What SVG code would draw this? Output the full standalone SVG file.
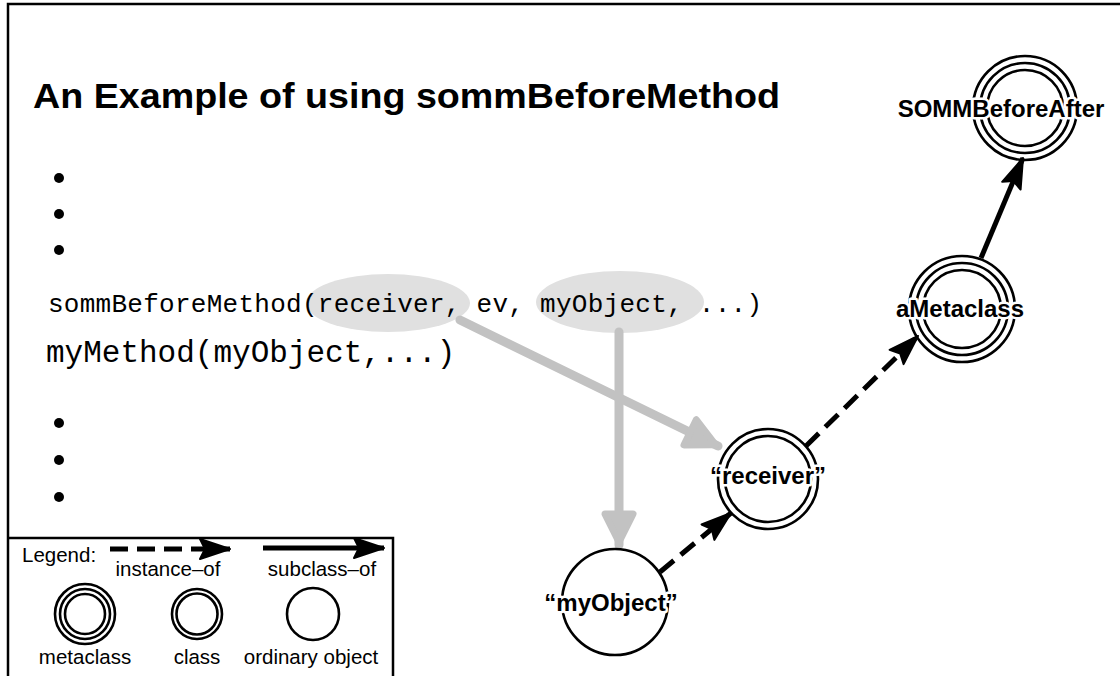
<svg xmlns="http://www.w3.org/2000/svg" width="1120" height="676" viewBox="0 0 1120 676">
  <style>
    .ring { fill: none; stroke: #000; stroke-width: 2.6; }
    .lbl { font-family: "Liberation Sans", Arial, sans-serif; font-weight: bold; font-size: 24px; text-anchor: middle; fill: #000; stroke: #fff; stroke-width: 5; paint-order: stroke; stroke-linejoin: round; }
    .leg { font-family: "Liberation Sans", Arial, sans-serif; font-size: 20.5px; fill: #000; }
    .code { font-family: "Liberation Mono", "Courier New", monospace; fill: #000; }
    .inst { fill: none; stroke: #000; stroke-width: 5; stroke-dasharray: 18 9; }
    .sub { fill: none; stroke: #000; stroke-width: 5; }
    .ref { fill: none; stroke: #c2c2c2; stroke-width: 9; stroke-linecap: round; }
    .bullet { fill: #000; }
  </style>
  <defs>
    <marker id="blackHead" markerUnits="userSpaceOnUse" viewBox="-32 -13 34 26" refX="0" refY="0" markerWidth="34" markerHeight="26" orient="auto">
      <path d="M0,0 L-30,-10 L-25,0 L-30,10 Z" fill="#000" stroke="#000" stroke-width="2" stroke-linejoin="round"/>
    </marker>
    <marker id="grayHead" markerUnits="userSpaceOnUse" viewBox="-38 -21 42 42" refX="0" refY="0" markerWidth="42" markerHeight="42" orient="auto">
      <path d="M-3,0 L-31,-14 L-31,14 Z" fill="#c2c2c2" stroke="#c2c2c2" stroke-width="7" stroke-linejoin="round"/>
    </marker>
  </defs>

  <rect x="0" y="0" width="1120" height="676" fill="#fff"/>

  <!-- page frame -->
  <path d="M8,676 L8,4 L1120,4" fill="none" stroke="#000" stroke-width="2.5"/>

  <!-- title -->
  <text x="33" y="108" font-family="Liberation Sans, Arial, sans-serif" font-weight="bold" font-size="35" textLength="747" lengthAdjust="spacingAndGlyphs">An Example of using sommBeforeMethod</text>

  <!-- code listing -->
  <g id="listing">
    <circle class="bullet" cx="59" cy="178" r="5"/>
    <circle class="bullet" cx="59" cy="214" r="5"/>
    <circle class="bullet" cx="59" cy="250" r="5"/>
    <ellipse cx="388" cy="303" rx="82" ry="29" fill="#e0e0e0"/>
    <ellipse cx="620" cy="302" rx="84" ry="31" fill="#e0e0e0"/>
    <text class="code" x="48" y="312" font-size="26" textLength="714" lengthAdjust="spacing">sommBeforeMethod(receiver, ev, myObject, ...)</text>
    <text class="code" x="46" y="362" font-size="31">myMethod(myObject,...)</text>
    <circle class="bullet" cx="59" cy="423" r="5"/>
    <circle class="bullet" cx="59" cy="460" r="5"/>
    <circle class="bullet" cx="59" cy="497" r="5"/>
  </g>

  <!-- connectors -->
  <g id="connectors">
    <path class="ref" d="M460,320 L718,446" marker-end="url(#grayHead)"/>
    <path class="ref" d="M619,332 L619,545" marker-end="url(#grayHead)"/>
    <path class="inst" d="M660,572 L731,513" marker-end="url(#blackHead)"/>
    <path class="inst" d="M806,446 L918,336" marker-end="url(#blackHead)"/>
    <path class="sub" d="M981,258 L1023,158" marker-end="url(#blackHead)"/>
  </g>

  <!-- nodes -->
  <g id="node-somm">
    <circle class="ring" cx="1025" cy="108" r="52"/>
    <circle class="ring" cx="1025" cy="108" r="45"/>
    <circle class="ring" cx="1025" cy="108" r="38"/>
    <text class="lbl" x="1001" y="117">SOMMBeforeAfter</text>
  </g>
  <g id="node-ametaclass">
    <circle class="ring" cx="962" cy="309" r="53"/>
    <circle class="ring" cx="962" cy="309" r="46"/>
    <circle class="ring" cx="962" cy="309" r="39"/>
    <text class="lbl" x="960" y="317">aMetaclass</text>
  </g>
  <g id="node-receiver">
    <circle class="ring" cx="768" cy="479" r="50"/>
    <circle class="ring" cx="768" cy="479" r="43"/>
    <text class="lbl" x="768" y="484">“receiver”</text>
  </g>
  <g id="node-myobject">
    <circle class="ring" cx="615" cy="602" r="53"/>
    <text class="lbl" x="611" y="611">“myObject”</text>
  </g>

  <!-- legend -->
  <g id="legend">
    <path d="M8,538 L393,538 L393,676" fill="none" stroke="#000" stroke-width="2.5"/>
    <text class="leg" x="22" y="562">Legend:</text>
    <path class="inst" d="M110,549 L230,549" marker-end="url(#blackHead)"/>
    <path class="sub" d="M263,548 L384,548" marker-end="url(#blackHead)"/>
    <text class="leg" x="168" y="576" text-anchor="middle">instance–of</text>
    <text class="leg" x="322" y="576" text-anchor="middle">subclass–of</text>
    <circle class="ring" cx="85" cy="614" r="30"/>
    <circle class="ring" cx="85" cy="614" r="25"/>
    <circle class="ring" cx="85" cy="614" r="20"/>
    <circle class="ring" cx="197" cy="614" r="25"/>
    <circle class="ring" cx="197" cy="614" r="20.5"/>
    <circle class="ring" cx="313" cy="614" r="26"/>
    <text class="leg" x="85" y="664" text-anchor="middle">metaclass</text>
    <text class="leg" x="197" y="664" text-anchor="middle">class</text>
    <text class="leg" x="311" y="664" text-anchor="middle">ordinary object</text>
  </g>
</svg>
